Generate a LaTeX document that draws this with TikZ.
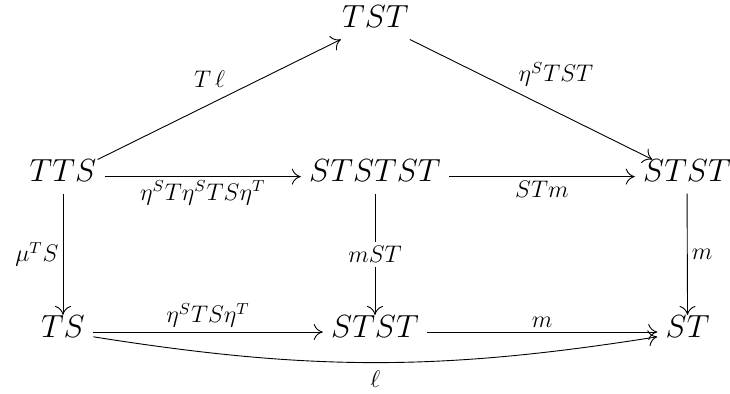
\RequirePackage{fix-cm}
\documentclass[tikz,border=0pt]{standalone}
\usetikzlibrary{arrows.meta}
\begin{document}
\begin{tikzpicture}[x=1pt,y=1pt,
  obj/.style={inner xsep=4pt, inner ysep=4pt, font=\fontsize{16}{19}\selectfont,
    text height=0.683em, text depth=0.183em},
  lab/.style={font=\fontsize{12}{14}\selectfont, inner sep=2pt},
  arr/.style={line width=0.45pt, -{Computer Modern Rightarrow[length=4.5pt,width=8pt]}}]
\useasboundingbox (0,0) rectangle (365,196.5);
% nodes
\node[obj] (TST)    at (187.7,185.3) {$TST$};
\node[obj] (TTS)    at (31.5,108.2)  {$TTS$};
\node[obj] (STSTST) at (187.5,108.2) {$STSTST$};
\node[obj] (STSTr)  at (343.5,108.2) {$STST$};
\node[obj] (TS)     at (31.5,30.5)   {$TS$};
\node[obj] (STSTb)  at (187.5,30.5)  {$STST$};
\node[obj] (ST)     at (343.8,30.5)  {$ST$};
% arrows
\draw[arr] (TTS) -- node[lab, pos=0.55, above left=1pt] {$T\,\ell$} (TST);
\draw[arr] (TST) -- node[lab, pos=0.43, above right=0pt] {$\eta^S TST$} (STSTr);
\draw[arr] (TTS) -- node[lab, midway, below] {$\eta^S T\eta^S TS\eta^T$} (STSTST);
\draw[arr] (STSTST) -- node[lab, midway, below] {$STm$} (STSTr);
\draw[arr] (TTS) -- node[lab, midway, left] {$\mu^T S$} (TS);
\draw[arr] (STSTST) -- node[lab, midway, fill=white] {$mST$} (STSTb);
\draw[arr] (STSTr) -- node[lab, midway, right] {$m$} (ST);
\draw[arr] (TS) -- node[lab, midway, above] {$\eta^S TS\eta^T$} (STSTb);
\draw[arr] (STSTb) -- node[lab, midway, above] {$m$} (ST);
\draw[arr] (TS) to[bend right=9] node[lab, midway, below=2pt] {$\ell$} (ST);
\end{tikzpicture}
\end{document}
